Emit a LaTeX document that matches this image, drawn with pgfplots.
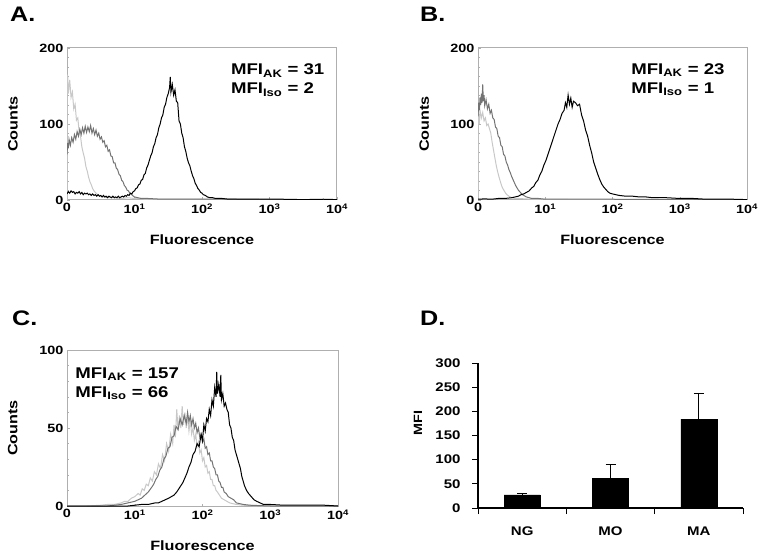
\documentclass[border=0pt]{standalone}
\usepackage{pgfplots}
\pgfplotsset{compat=1.18}
\usepackage{fontspec}
\setmainfont{Liberation Sans}[FakeStretch=1.2]
\definecolor{lgray}{RGB}{200,200,200}
\definecolor{mgray}{RGB}{115,115,115}
\definecolor{boxgray}{RGB}{175,175,175}
\pgfplotsset{
  hist/.style={
    scale only axis, anchor=south west,
    xmin=0, xmax=4, ymin=0,
    xtick={0,1,2,3,4},
    xticklabels={0,10\textsuperscript{1},10\textsuperscript{2},10\textsuperscript{3},10\textsuperscript{4}},
    /pgf/number format/assume math mode=true,
    axis line style={boxgray, line width=1pt},
    tick style={boxgray, line width=0.4pt},
    tick align=inside, xtick pos=bottom, ytick pos=left,
    major tick length=2.5pt, minor tick length=2pt,
    tick label style={font=\bfseries\fontsize{12}{12}\selectfont, text=black},
    xlabel={Fluorescence}, ylabel={Counts},
    every axis x label/.style={at={(axis description cs:0.5,0)}, anchor=center, yshift=-40pt, font=\bfseries\fontsize{13.5}{13.5}\selectfont},
    every axis y label/.style={at={(axis description cs:-0.2,0.5)}, rotate=90, anchor=center, font=\bfseries\fontsize{13.5}{13.5}\selectfont},
    no markers,
  },
}
\tikzset{
  lg/.style={color=lgray, line width=1pt},
  mg/.style={color=mgray, line width=1pt},
  kk/.style={color=black, line width=1pt},
  mfi/.style={anchor=north west, align=left, font=\bfseries\fontsize{15.5}{19}\selectfont, inner sep=0pt},
  ptitle/.style={anchor=base west, font=\bfseries\fontsize{21}{21}\selectfont, inner sep=0pt},
}
\begin{document}
\begin{tikzpicture}
\useasboundingbox (0,0) rectangle (760pt,555pt);
\node[ptitle] at (10pt,533pt) {A.};
\node[ptitle] at (420pt,533pt) {B.};
\node[ptitle] at (12pt,230pt) {C.};
\node[ptitle] at (420pt,230pt) {D.};
% ---------------- A
\begin{axis}[hist, at={(67pt,355pt)}, width=270pt, height=152pt, ymax=200,
  ytick={0,100,200}, minor y tick num=7]
\addplot[lg] coordinates {(0,0) (0.00,150) (0.01,165) (0.02,140) (0.04,158) (0.06,135) (0.08,142) (0.10,120) (0.12,126) (0.14,105) (0.16,108) (0.18,90) (0.20,84) (0.22,70) (0.24,62) (0.26,55) (0.28,44) (0.30,38) (0.32,30) (0.34,24) (0.36,20) (0.38,15) (0.40,12) (0.42,10) (0.44,8) (0.47,6) (0.50,5) (0.55,4) (0.6,3) (0.7,3) (0.8,2) (0.9,3) (1.0,2) (1.2,1) (1.5,1) (2,1) (2.5,0.5) (3,0.5) (4,0.5)};
\addplot[mg] coordinates {(0.00,60) (0.01,75) (0.02,68) (0.03,80) (0.05,72) (0.07,82) (0.09,76) (0.11,86) (0.13,80) (0.15,90) (0.17,84) (0.19,93) (0.21,86) (0.23,95) (0.25,88) (0.27,97) (0.29,89) (0.31,96) (0.33,90) (0.35,98) (0.37,88) (0.39,94) (0.41,86) (0.43,92) (0.45,84) (0.47,88) (0.49,80) (0.51,83) (0.53,76) (0.55,78) (0.57,70) (0.59,72) (0.61,64) (0.63,66) (0.65,58) (0.67,57) (0.69,49) (0.71,49) (0.73,42) (0.75,40) (0.77,34) (0.79,32) (0.81,26) (0.83,24) (0.85,19) (0.87,17) (0.89,13) (0.91,12) (0.93,9) (0.95,8) (0.97,6) (1.0,4) (1.05,3) (1.1,2) (1.2,2) (1.4,1) (1.6,1) (2,1) (2.5,1) (3,0.5) (4,0.5)};
\addplot[kk] coordinates {(0.00,8) (0.02,11) (0.04,9) (0.06,12) (0.08,10) (0.10,11) (0.12,8) (0.14,10) (0.16,9) (0.18,11) (0.20,8) (0.22,10) (0.24,7) (0.26,9) (0.28,8) (0.30,9) (0.32,7) (0.34,8) (0.36,6) (0.38,8) (0.40,6) (0.42,7) (0.44,5) (0.46,7) (0.48,5) (0.50,6) (0.52,4) (0.54,6) (0.56,4) (0.58,5) (0.60,3) (0.62,5) (0.64,4) (0.66,3) (0.68,5) (0.70,3) (0.72,4) (0.74,3) (0.76,5) (0.78,3) (0.80,4) (0.82,5) (0.84,4) (0.86,6) (0.88,5) (0.90,7) (0.92,6) (0.94,9) (0.96,8) (0.98,11) (1.00,12) (1.02,15) (1.04,16) (1.06,20) (1.08,21) (1.10,26) (1.12,27) (1.14,33) (1.16,35) (1.18,42) (1.20,46) (1.22,52) (1.24,58) (1.26,62) (1.28,70) (1.30,74) (1.32,82) (1.34,86) (1.36,95) (1.38,100) (1.40,108) (1.42,112) (1.44,122) (1.46,126) (1.48,135) (1.50,140) (1.52,148) (1.53,162) (1.54,142) (1.56,152) (1.58,138) (1.60,145) (1.62,130) (1.64,128) (1.66,104) (1.68,100) (1.70,88) (1.72,82) (1.74,70) (1.76,64) (1.78,55) (1.80,49) (1.82,45) (1.84,38) (1.86,32) (1.88,28) (1.90,22) (1.92,19) (1.94,15) (1.96,13) (1.98,10) (2.00,9) (2.02,7) (2.05,6) (2.08,4) (2.12,3) (2.16,3) (2.2,2) (2.3,2) (2.4,1) (2.6,1) (2.8,1) (3.0,1) (3.2,1) (3.5,0.5) (3.8,1) (4.0,0.5)};
\node[mfi] at (rel axis cs:0.607,0.895) {MFI\textsubscript{AK} = 31\\MFI\textsubscript{Iso} = 2};
\end{axis}
% ---------------- B
\begin{axis}[hist, at={(478pt,355pt)}, width=269pt, height=152pt, ymax=200,
  ytick={0,100,200}, minor y tick num=7]
\addplot[lg] coordinates {(0,0) (0.00,95) (0.01,112) (0.02,100) (0.03,118) (0.05,108) (0.07,115) (0.09,104) (0.11,108) (0.13,98) (0.15,100) (0.17,94) (0.19,88) (0.21,76) (0.23,66) (0.25,56) (0.27,46) (0.29,38) (0.31,31) (0.33,25) (0.35,19) (0.37,15) (0.39,12) (0.41,9) (0.43,7) (0.46,5) (0.50,3) (0.55,2) (0.6,2) (0.8,1) (1,1) (1.5,0.5) (4,0.5)};
\addplot[mg] coordinates {(0.00,110) (0.01,128) (0.02,118) (0.03,135) (0.04,125) (0.05,140) (0.06,128) (0.07,152) (0.08,130) (0.09,138) (0.10,124) (0.12,132) (0.14,120) (0.16,126) (0.18,114) (0.20,118) (0.22,108) (0.24,106) (0.26,96) (0.28,94) (0.30,84) (0.32,82) (0.34,72) (0.36,70) (0.38,60) (0.40,58) (0.42,50) (0.44,46) (0.46,40) (0.48,36) (0.50,31) (0.52,27) (0.54,23) (0.56,19) (0.58,16) (0.60,13) (0.62,11) (0.64,9) (0.66,7) (0.68,6) (0.72,4) (0.76,3) (0.80,2) (0.9,2) (1.0,1) (1.5,1) (2,1) (3,0.5) (4,0.5)};
\addplot[kk] coordinates {(0.00,1) (0.1,1.5) (0.2,1) (0.3,2) (0.4,2) (0.5,3) (0.55,4) (0.60,5) (0.64,7) (0.68,8) (0.72,10) (0.76,12) (0.80,16) (0.83,18) (0.86,23) (0.89,26) (0.92,33) (0.95,38) (0.98,46) (1.01,52) (1.04,60) (1.07,68) (1.10,76) (1.13,84) (1.16,92) (1.19,100) (1.22,106) (1.25,114) (1.28,118) (1.30,128) (1.32,122) (1.34,138) (1.36,126) (1.38,134) (1.40,122) (1.42,130) (1.45,128) (1.48,124) (1.51,126) (1.54,112) (1.57,104) (1.60,92) (1.63,84) (1.66,72) (1.69,62) (1.72,50) (1.75,42) (1.78,34) (1.81,27) (1.84,21) (1.87,17) (1.90,14) (1.93,11) (1.96,9) (2.00,8) (2.05,7) (2.1,6) (2.2,5) (2.3,5) (2.4,4) (2.5,4) (2.6,3) (2.8,3) (3.0,2) (3.2,2) (3.4,1) (3.6,1) (3.8,1) (4.0,0.5)};
\node[mfi] at (rel axis cs:0.569,0.90) {MFI\textsubscript{AK} = 23\\MFI\textsubscript{Iso} = 1};
\end{axis}
% ---------------- C
\begin{axis}[hist, at={(67pt,49pt)}, width=271pt, height=156pt, ymax=100,
  ytick={0,50,100}, minor y tick num=4]
\addplot[lg] coordinates {(0,0) (0.3,0) (0.5,0.5) (0.6,1) (0.7,1) (0.8,2) (0.85,3) (0.9,3) (0.95,5) (1.0,6) (1.05,8) (1.08,7) (1.11,11) (1.14,10) (1.17,14) (1.20,13) (1.23,18) (1.26,16) (1.29,22) (1.32,20) (1.35,27) (1.38,24) (1.41,33) (1.44,29) (1.47,40) (1.50,35) (1.53,46) (1.56,40) (1.58,52) (1.60,44) (1.62,62) (1.64,48) (1.66,58) (1.68,50) (1.70,64) (1.72,52) (1.74,60) (1.76,50) (1.78,58) (1.80,48) (1.82,55) (1.84,46) (1.86,50) (1.88,42) (1.90,46) (1.92,38) (1.94,41) (1.96,34) (1.98,36) (2.00,29) (2.02,31) (2.04,25) (2.06,26) (2.08,21) (2.10,22) (2.12,17) (2.14,17) (2.16,13) (2.18,13) (2.20,10) (2.22,9) (2.25,7) (2.28,5) (2.32,4) (2.36,3) (2.40,2) (2.5,1) (2.6,0.5) (3,0) (4,0)};
\addplot[mg] coordinates {(0,0) (0.6,0) (0.8,1) (0.9,2) (1.0,3) (1.05,4) (1.10,5) (1.15,7) (1.20,9) (1.25,12) (1.28,14) (1.31,17) (1.34,19) (1.37,23) (1.40,25) (1.43,30) (1.46,32) (1.49,37) (1.52,38) (1.55,44) (1.58,45) (1.61,51) (1.64,49) (1.67,56) (1.70,52) (1.73,58) (1.76,53) (1.78,60) (1.80,54) (1.82,58) (1.84,52) (1.86,56) (1.88,50) (1.90,53) (1.92,47) (1.94,50) (1.96,44) (1.98,46) (2.00,41) (2.02,43) (2.04,37) (2.06,38) (2.08,33) (2.10,34) (2.12,29) (2.14,29) (2.16,25) (2.18,24) (2.20,20) (2.22,20) (2.24,16) (2.26,15) (2.28,12) (2.30,12) (2.32,9) (2.35,8) (2.38,6) (2.42,5) (2.46,4) (2.5,2) (2.6,1) (2.7,0.5) (3,0) (4,0)};
\addplot[kk] coordinates {(0,0) (0.9,0) (1.0,0.5) (1.1,1) (1.2,1) (1.3,2) (1.35,2) (1.40,3) (1.45,4) (1.50,5) (1.54,6) (1.58,7) (1.62,9) (1.65,11) (1.68,13) (1.71,15) (1.74,18) (1.77,21) (1.80,25) (1.83,28) (1.86,33) (1.89,35) (1.92,40) (1.95,38) (1.98,46) (2.00,42) (2.02,52) (2.04,48) (2.06,56) (2.08,54) (2.10,62) (2.12,58) (2.14,68) (2.16,64) (2.18,76) (2.20,70) (2.21,86) (2.22,72) (2.24,78) (2.26,70) (2.27,84) (2.28,68) (2.30,72) (2.32,64) (2.34,66) (2.36,62) (2.38,60) (2.40,52) (2.42,50) (2.44,44) (2.46,42) (2.48,36) (2.50,33) (2.52,30) (2.54,27) (2.56,24) (2.58,19) (2.60,16) (2.62,13) (2.65,10) (2.68,8) (2.72,6) (2.76,4) (2.80,3) (2.85,2) (2.9,1) (3.0,1) (3.2,0.5) (3.5,0.5) (3.8,0.5) (4,0)};
\node[mfi] at (rel axis cs:0.03,0.89) {MFI\textsubscript{AK} = 157\\MFI\textsubscript{Iso} = 66};
\end{axis}
% ---------------- D
\begin{axis}[scale only axis, anchor=south west, at={(478pt,47pt)}, width=265pt, height=145pt,
  xmin=0.5, xmax=3.5, ymin=0, ymax=300, ytick={0,50,...,300},
  /pgf/number format/assume math mode=true,
  xtick={0.5,1.5,2.5,3.5}, xticklabels={NG,MO,MA}, x tick label as interval,
  axis x line*=bottom, axis y line*=left,
  axis line style={black, line width=1.2pt},
  tick style={black, line width=1pt}, tick align=outside, major tick length=6pt,
  tick label style={font=\bfseries\fontsize{12.5}{12.5}\selectfont},
  xticklabel style={yshift=-9pt},
  yticklabel style={xshift=-8pt},
  ylabel={MFI},
  every axis y label/.style={at={(axis description cs:-0.226,0.586)}, rotate=90, anchor=center, font=\bfseries\fontsize{12}{12}\selectfont},
  ybar, bar width=36pt]
\addplot[fill=black, draw=black, error bars/.cd, y dir=plus, y explicit,
  error mark=|,
  error bar style={black, line width=0.8pt},
  error mark options={black, line width=0.8pt, mark size=5pt}]
  coordinates {(1,27) +- (0,4) (2,61) +- (0,30) (3,184) +- (0,54)};
\end{axis}
\end{tikzpicture}
\end{document}
